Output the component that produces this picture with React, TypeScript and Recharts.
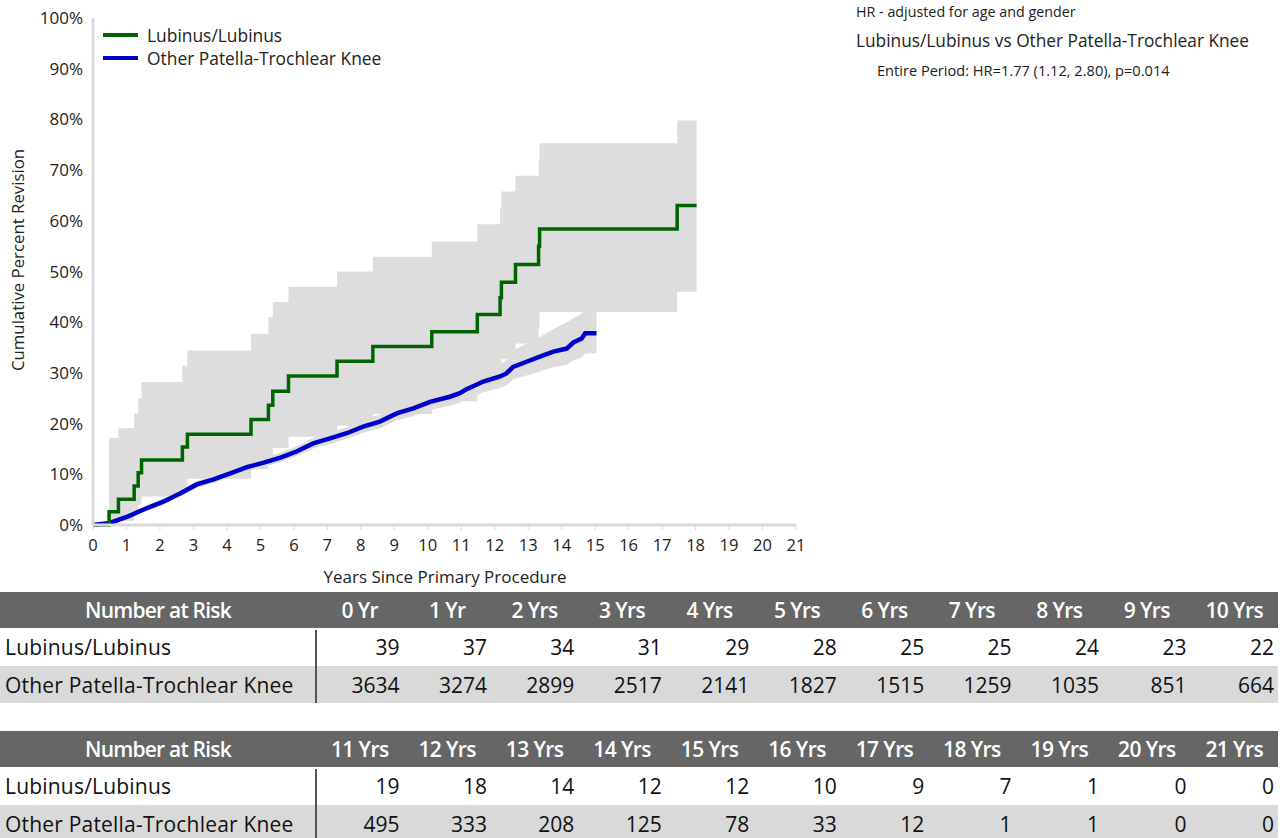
import React from "react";
import { ComposedChart, Line, Area, XAxis, YAxis } from "recharts";

const lubYears = [0, 0.48, 0.76, 1.23, 1.35, 1.45, 2.67, 2.82, 4.72, 5.24, 5.37, 5.84, 7.29, 8.36, 10.12, 11.48, 12.16, 12.2, 12.62, 13.31, 13.34, 17.45, 18.03];
const lubCum = [0, 2.6, 5.1, 7.7, 10.3, 12.8, 15.4, 17.9, 20.8, 23.6, 26.4, 29.4, 32.3, 35.2, 38.1, 41.5, 44.8, 47.9, 51.4, 55.0, 58.4, 63.0, 63.0];
const lubLow = [0, 0.4, 0.8, 2.5, 4.0, 5.6, 7.3, 9.1, 11.0, 13.0, 15.2, 17.4, 19.6, 21.9, 24.4, 27.3, 30.0, 32.7, 35.8, 39.0, 42.0, 46.0, 46.0];
const lubHigh = [0, 17.2, 19.1, 22.0, 25.0, 28.2, 31.4, 34.4, 37.7, 41.0, 44.0, 47.0, 50.0, 52.9, 55.9, 59.3, 62.5, 65.8, 68.9, 72.0, 75.3, 79.8, 79.8];

const othYears = [0, 0.5, 1.05, 1.6, 2.1, 2.6, 3.1, 3.6, 4.1, 4.6, 5.1, 5.6, 6.08, 6.58, 7.08, 7.58, 8.07, 8.57, 9.07, 9.57, 10.07, 10.66, 10.96, 11.16, 11.66, 12.16, 12.35, 12.55, 12.95, 13.35, 13.75, 14.15, 14.35, 14.6, 14.7, 15.04];
const othCum = [0, 0.4, 1.7, 3.3, 4.6, 6.2, 8.0, 9.0, 10.2, 11.4, 12.3, 13.3, 14.5, 16.1, 17.1, 18.1, 19.4, 20.4, 22.0, 23.0, 24.3, 25.3, 26.0, 26.8, 28.3, 29.3, 29.9, 31.2, 32.2, 33.2, 34.2, 34.8, 36.0, 36.8, 37.8, 37.8];
const othLow = [0, 0.1, 1.2, 2.8, 4.0, 5.6, 7.3, 8.3, 9.5, 10.6, 11.5, 12.4, 13.6, 15.1, 16.0, 17.0, 18.2, 19.1, 20.6, 21.5, 22.7, 23.5, 24.1, 24.8, 26.2, 27.0, 27.5, 28.7, 29.5, 30.3, 31.1, 31.6, 32.5, 33.1, 33.8, 33.9];
const othHigh = [0, 0.7, 2.2, 3.8, 5.2, 6.8, 8.7, 9.8, 11.0, 12.3, 13.2, 14.3, 15.5, 17.2, 18.3, 19.3, 20.7, 21.8, 23.5, 24.6, 26.0, 27.2, 28.0, 28.8, 30.4, 31.8, 32.5, 34.4, 35.8, 37.1, 38.6, 40.0, 40.8, 41.7, 42.5, 42.5];

const xTicks = [0, 1, 2, 3, 4, 5, 6, 7, 8, 9, 10, 11, 12, 13, 14, 15, 16, 17, 18, 19, 20, 21];
const yTicks = [0, 10, 20, 30, 40, 50, 60, 70, 80, 90, 100];

const seriesNames = ["Lubinus/Lubinus", "Other Patella-Trochlear Knee"];
const riskHeaders1 = ["0 Yr", "1 Yr", "2 Yrs", "3 Yrs", "4 Yrs", "5 Yrs", "6 Yrs", "7 Yrs", "8 Yrs", "9 Yrs", "10 Yrs"];
const riskLub1 = [39, 37, 34, 31, 29, 28, 25, 25, 24, 23, 22];
const riskOth1 = [3634, 3274, 2899, 2517, 2141, 1827, 1515, 1259, 1035, 851, 664];
const riskHeaders2 = ["11 Yrs", "12 Yrs", "13 Yrs", "14 Yrs", "15 Yrs", "16 Yrs", "17 Yrs", "18 Yrs", "19 Yrs", "20 Yrs", "21 Yrs"];
const riskLub2 = [19, 18, 14, 12, 12, 10, 9, 7, 1, 0, 0];
const riskOth2 = [495, 333, 208, 125, 78, 33, 12, 1, 1, 0, 0];

const FONT = "'Open Sans', 'Noto Sans', sans-serif";
const GREEN = "#006400";
const BLUE = "#0000cd";
const BAND = "#dddddd";

const lubData = lubYears.map((t, i) => ({ t, v: lubCum[i], range: [lubLow[i], lubHigh[i]] }));
const othData = othYears.map((t, i) => ({ t, v: othCum[i], range: [othLow[i], othHigh[i]] }));

function RiskTable({ top, headers, a, b }: { top: number; headers: string[]; a: number[]; b: number[] }) {
  const firstW = 316;
  const colW = (1278 - firstW) / 11;
  const rowStyle = (t: number, h: number, bg: string): React.CSSProperties => ({
    position: "absolute", left: 0, top: t, width: 1278, height: h, background: bg,
  });
  const cell = (i: number, text: string | number, color: string, center: boolean, size: number, weight: number, ls: number): React.ReactNode => (
    <div key={i} style={{
      position: "absolute", left: firstW + i * colW, width: colW - (center ? 0 : 4), top: 0, height: "100%",
      display: "flex", alignItems: "center", justifyContent: center ? "center" : "flex-end",
      color, fontSize: size, fontWeight: weight, letterSpacing: ls, whiteSpace: "nowrap",
    }}>{text}</div>
  );
  return (
    <div style={{ position: "absolute", left: 0, top, width: 1278, height: 112, fontFamily: FONT }}>
      <div style={rowStyle(0, 36, "#666666")}>
        <div style={{ position: "absolute", left: 0, width: firstW, top: 0, height: "100%", display: "flex", alignItems: "center", justifyContent: "center", color: "#fff", fontSize: 21, fontWeight: 600, letterSpacing: -0.8 }}>Number at Risk</div>
        {headers.map((h, i) => cell(i, h, "#fff", true, 21, 600, -0.6))}
      </div>
      <div style={rowStyle(36, 38, "#ffffff")}>
        <div style={{ position: "absolute", left: 5, top: 0, height: "100%", display: "flex", alignItems: "center", color: "#111", fontSize: 21, whiteSpace: "nowrap", letterSpacing: 0.2 }}>{seriesNames[0]}</div>
        {a.map((v, i) => cell(i, v, "#111", false, 21, 400, 0))}
      </div>
      <div style={rowStyle(74, 37, "#d9d9d9")}>
        <div style={{ position: "absolute", left: 5, top: 0, height: "100%", display: "flex", alignItems: "center", color: "#111", fontSize: 21, whiteSpace: "nowrap", letterSpacing: 0.2 }}>{seriesNames[1]}</div>
        {b.map((v, i) => cell(i, v, "#111", false, 21, 400, 0))}
      </div>
      <div style={{ position: "absolute", left: firstW - 1, top: 38, width: 2, height: 73, background: "#555" }} />
    </div>
  );
}

export default function App() {
  return (
    <div style={{ position: "absolute", left: 0, top: 0, width: 1282, height: 838, background: "#fff", fontFamily: FONT, overflow: "hidden" }}>
      <div style={{ position: "absolute", left: 0, top: 0 }}>
        <ComposedChart width={820} height={600} margin={{ top: 18, right: 24, bottom: 0, left: 0 }}>
          <XAxis
            dataKey="t"
            type="number"
            domain={[0, 21]}
            ticks={xTicks}
            interval={0}
            axisLine={{ stroke: "#d9d9d9", strokeWidth: 3 }}
            tickLine={{ stroke: "#d9d9d9" }}
            tickSize={5}
            tickMargin={9}
            height={75}
            tick={{ fill: "#222", fontSize: 16.5, fontFamily: FONT }}
          />
          <YAxis
            type="number"
            domain={[0, 100]}
            ticks={yTicks}
            interval={0}
            width={93}
            axisLine={{ stroke: "#d9d9d9", strokeWidth: 3 }}
            tickLine={false}
            tickSize={0}
            tickMargin={10}
            tickFormatter={(v: number) => `${v}%`}
            tick={{ fill: "#222", fontSize: 17, fontFamily: FONT }}
          />
          <Area data={lubData} dataKey="range" type="stepAfter" stroke="none" fill={BAND} fillOpacity={1} isAnimationActive={false} />
          <Area data={othData} dataKey="range" type="linear" stroke="none" fill={BAND} fillOpacity={1} isAnimationActive={false} />
          <Line data={othData} dataKey="v" type="linear" stroke={BLUE} strokeWidth={4.5} dot={false} isAnimationActive={false} />
          <Line data={lubData} dataKey="v" type="stepAfter" stroke={GREEN} strokeWidth={3.5} dot={false} isAnimationActive={false} />
        </ComposedChart>
      </div>

      <div style={{ position: "absolute", left: 18, top: 260, width: 0, height: 0 }}>
        <div style={{ position: "absolute", left: -160, top: -12, width: 320, lineHeight: "24px", textAlign: "center", transform: "rotate(-90deg)", fontSize: 16.8, color: "#222", whiteSpace: "nowrap" }}>Cumulative Percent Revision</div>
      </div>
      <div style={{ position: "absolute", left: 285, top: 565, width: 320, textAlign: "center", fontSize: 17, color: "#222", whiteSpace: "nowrap" }}>Years Since Primary Procedure</div>

      <div style={{ position: "absolute", left: 103, top: 23, fontSize: 17.4, color: "#222" }}>
        <div style={{ display: "flex", alignItems: "center", height: 23 }}>
          <div style={{ width: 35, height: 4, background: GREEN, marginRight: 9 }} />
          <span>{seriesNames[0]}</span>
        </div>
        <div style={{ display: "flex", alignItems: "center", height: 23 }}>
          <div style={{ width: 35, height: 4, background: BLUE, marginRight: 9 }} />
          <span>{seriesNames[1]}</span>
        </div>
      </div>

      <div style={{ position: "absolute", left: 856, top: 2, fontSize: 14.3, color: "#222", whiteSpace: "nowrap" }}>HR - adjusted for age and gender</div>
      <div style={{ position: "absolute", left: 856, top: 29, fontSize: 17.3, color: "#222", whiteSpace: "nowrap" }}>Lubinus/Lubinus vs Other Patella-Trochlear Knee</div>
      <div style={{ position: "absolute", left: 877, top: 60, fontSize: 14.6, color: "#222", whiteSpace: "nowrap" }}>Entire Period: HR=1.77 (1.12, 2.80), p=0.014</div>

      <RiskTable top={592} headers={riskHeaders1} a={riskLub1} b={riskOth1} />
      <RiskTable top={731} headers={riskHeaders2} a={riskLub2} b={riskOth2} />
    </div>
  );
}
